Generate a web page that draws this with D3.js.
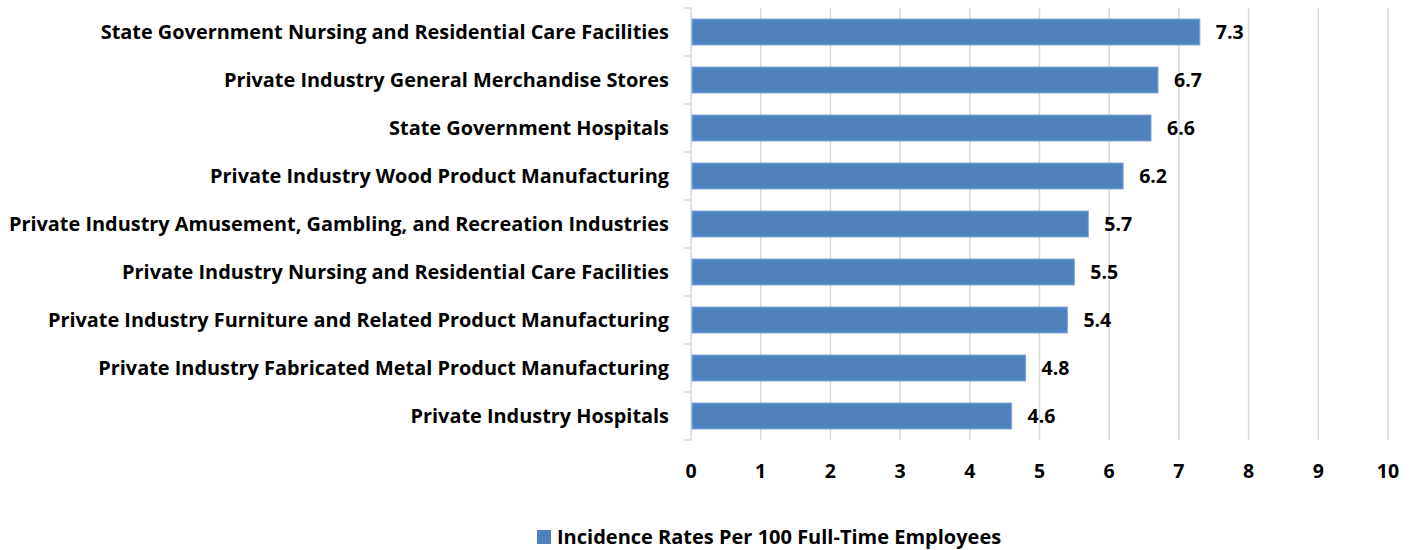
<!DOCTYPE html>
<html>
<head>
<meta charset="utf-8">
<script src="https://cdn.jsdelivr.net/npm/d3@7/dist/d3.min.js"></script>
<style>
  body { margin: 0; background: #fff; }
  text { font-family: "Open Sans", "Noto Sans", sans-serif; font-weight: bold; fill: #000; }
</style>
</head>
<body>
<svg id="chart" width="1414" height="550"></svg>
<script>
var categories = [
  'State Government Nursing and Residential Care Facilities',
  'Private Industry General Merchandise Stores',
  'State Government Hospitals ',
  'Private Industry Wood Product Manufacturing',
  'Private Industry Amusement, Gambling, and Recreation Industries',
  'Private Industry Nursing and Residential Care Facilities',
  'Private Industry Furniture and Related Product Manufacturing',
  'Private Industry Fabricated Metal Product Manufacturing',
  'Private Industry Hospitals'
];
var rates = [7.3, 6.7, 6.6, 6.2, 5.7, 5.5, 5.4, 4.8, 4.6];
var xTicks = [0, 1, 2, 3, 4, 5, 6, 7, 8, 9, 10];
var seriesName = 'Incidence Rates Per 100 Full-Time Employees';

var svg = d3.select('#chart'),
    margin = {top: 8, left: 691, right: 26, bottom: 110},
    width = 1414 - margin.left - margin.right,
    height = 550 - margin.top - margin.bottom,
    barColor = '#4f81bd';

var g = svg.append('g')
  .attr('transform', 'translate(' + margin.left + ',' + margin.top + ')');

var x = d3.scaleLinear().domain([0, 10]).range([0, width]);
var y = d3.scaleBand().domain(categories).range([0, height]).paddingInner(0.46).paddingOuter(0.23);

// gridlines
g.selectAll('.grid')
  .data(xTicks.slice(1))
  .enter().append('line')
  .attr('x1', function(d) { return x(d); })
  .attr('x2', function(d) { return x(d); })
  .attr('y1', 0)
  .attr('y2', height)
  .attr('stroke', '#d9d9d9')
  .attr('stroke-width', 1.5);

// category axis with outer ticks between bands
var yAxis = g.append('g');
yAxis.append('line')
  .attr('x1', 0).attr('x2', 0)
  .attr('y1', 0).attr('y2', height)
  .attr('stroke', '#d9d9d9').attr('stroke-width', 1.5);
var step = height / categories.length;
yAxis.selectAll('.tk')
  .data(d3.range(categories.length + 1))
  .enter().append('line')
  .attr('x1', -7).attr('x2', 0)
  .attr('y1', function(i) { return i * step; })
  .attr('y2', function(i) { return i * step; })
  .attr('stroke', '#d9d9d9').attr('stroke-width', 1.5);

yAxis.selectAll('.lbl')
  .data(categories)
  .enter().append('text')
  .attr('x', -22)
  .attr('y', function(d) { return y(d) + y.bandwidth() / 2; })
  .attr('dy', '0.35em')
  .attr('text-anchor', 'end')
  .style('font-size', '19.9px')
  .text(function(d) { return d; });

// bars
g.selectAll('.bar')
  .data(rates)
  .enter().append('rect')
  .attr('x', x(0) + 1)
  .attr('y', function(d, i) { return y(categories[i]); })
  .attr('width', function(d) { return x(d) - x(0) - 1; })
  .attr('height', y.bandwidth())
  .attr('fill', barColor)
  .attr('stroke', '#7ea3d3')
  .attr('stroke-width', 1);

// value labels
g.selectAll('.val')
  .data(rates)
  .enter().append('text')
  .attr('x', function(d) { return x(d) + 16; })
  .attr('y', function(d, i) { return y(categories[i]) + y.bandwidth() / 2; })
  .attr('dy', '0.35em')
  .style('font-size', '19.5px')
  .text(function(d) { return d3.format('.1f')(d); });

// x tick labels
g.selectAll('.xl')
  .data(xTicks)
  .enter().append('text')
  .attr('x', function(d) { return x(d); })
  .attr('y', height + 31)
  .attr('dy', '0.35em')
  .attr('text-anchor', 'middle')
  .style('font-size', '19.5px')
  .text(function(d) { return d; });

// legend
var legend = svg.append('g').attr('transform', 'translate(537,530)');
legend.append('rect')
  .attr('width', 14).attr('height', 14)
  .attr('fill', barColor);
legend.append('text')
  .attr('x', 20).attr('y', 7)
  .attr('dy', '0.35em')
  .style('font-size', '20px')
  .text(seriesName);
</script>
</body>
</html>
